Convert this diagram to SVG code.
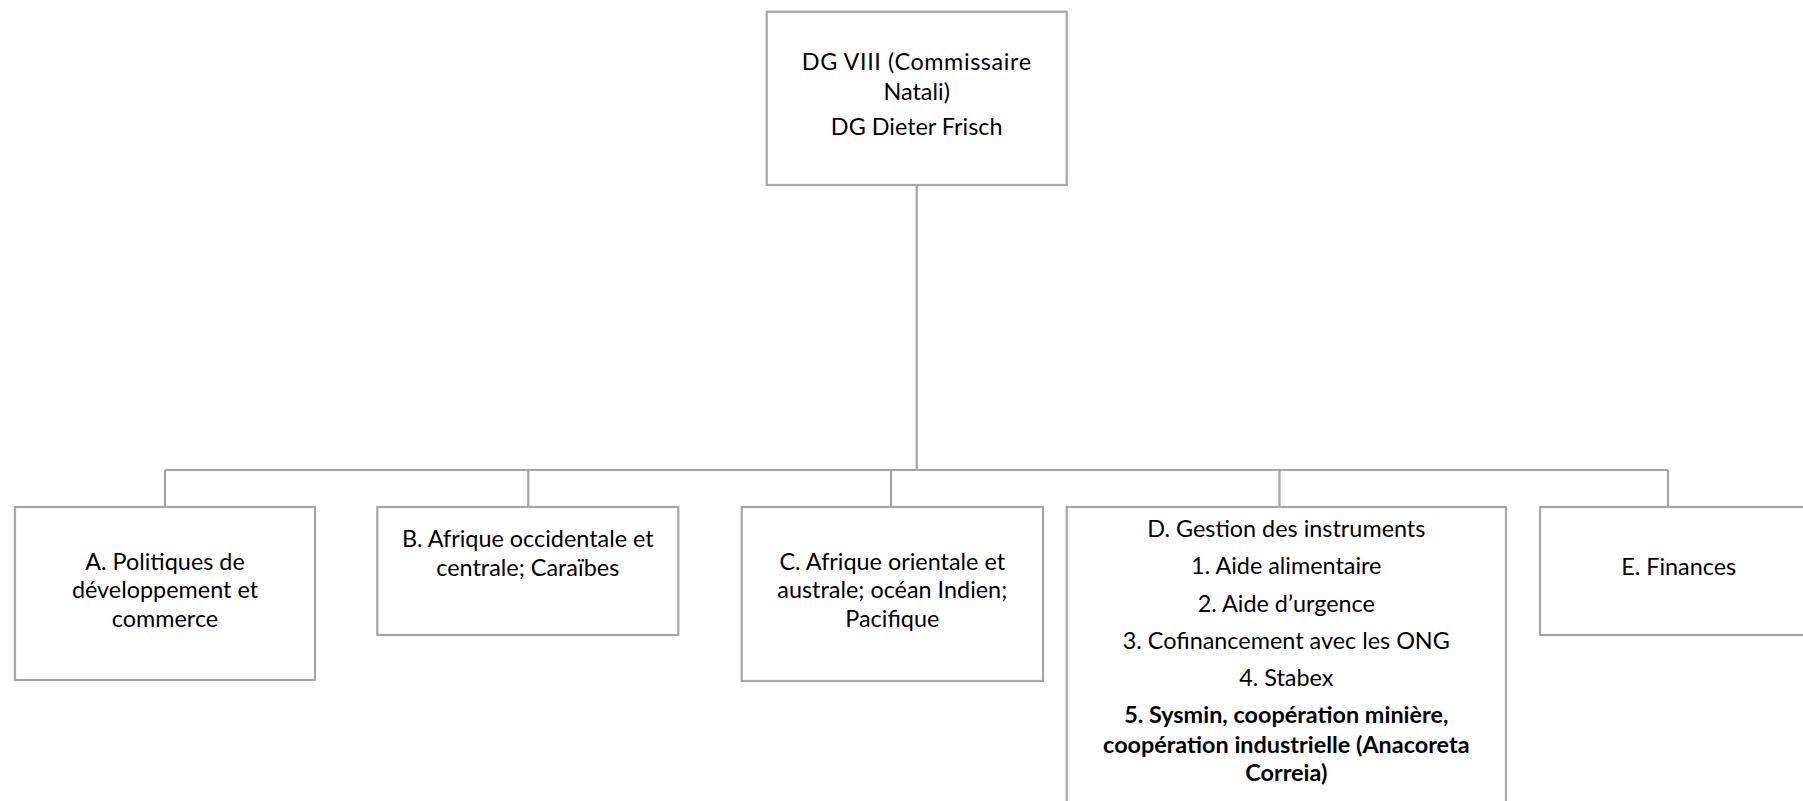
<svg xmlns="http://www.w3.org/2000/svg" width="1803" height="801" viewBox="0 0 1803 801">
<style>
.box{fill:#fff;stroke:#a6a6a6;stroke-width:2.2}
.con{fill:none;stroke:#a6a6a6;stroke-width:2.2}
text{font-family:Lato,"Liberation Sans",sans-serif;font-size:23.4px;fill:#000;text-anchor:middle}
.b{font-weight:bold}
</style>
<rect width="1803" height="801" fill="#fff"/>
<g id="connectors">
<path class="con" d="M916.7 185V470M165 470H1668M165 470V507M528.3 470V507M891 470V507M1279.5 470V507M1668 470V507"/>
</g>
<g id="dg">
<rect class="box" x="766.7" y="11.7" width="300" height="173.3"/>
<text x="916.7" y="70" letter-spacing="0.6">DG VIII (Commissaire</text>
<text x="916.7" y="100">Natali)</text>
<text x="916.7" y="135">DG Dieter Frisch</text>
</g>
<g id="a">
<rect class="box" x="15" y="507" width="300" height="173"/>
<text x="165" y="570">A. Politiques de</text>
<text x="165" y="598.3">développement et</text>
<text x="165" y="626.7">commerce</text>
</g>
<g id="b">
<rect class="box" x="377.3" y="507" width="301" height="128"/>
<text x="527.8" y="546.7">B. Afrique occidentale et</text>
<text x="527.8" y="576">centrale; Caraïbes</text>
</g>
<g id="c">
<rect class="box" x="741.7" y="507" width="301.3" height="174"/>
<text x="892.3" y="570">C. Afrique orientale et</text>
<text x="892.3" y="598.3">australe; océan Indien;</text>
<text x="892.3" y="626.7">Pacifique</text>
</g>
<g id="d">
<rect class="box" x="1066.7" y="507" width="439.3" height="320"/>
<text x="1286.3" y="536.7">D. Gestion des instruments</text>
<text x="1286.3" y="574">1. Aide alimentaire</text>
<text x="1286.3" y="611.7">2. Aide d’urgence</text>
<text x="1286.3" y="649">3. Cofinancement avec les ONG</text>
<text x="1286.3" y="686">4. Stabex</text>
<text class="b" x="1286.3" y="723.3">5. Sysmin, coopération minière,</text>
<text class="b" x="1286.3" y="752.7">coopération industrielle (Anacoreta</text>
<text class="b" x="1286.3" y="781">Correia)</text>
</g>
<g id="e">
<rect class="box" x="1540" y="507" width="278" height="128"/>
<text x="1678.7" y="575">E. Finances</text>
</g>
</svg>
